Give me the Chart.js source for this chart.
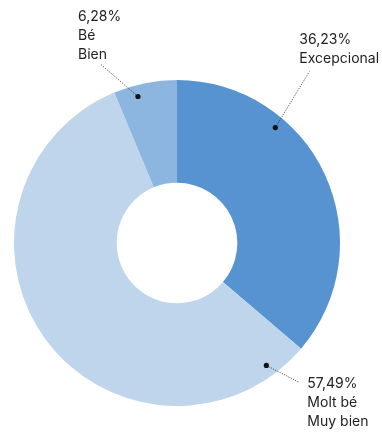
<!DOCTYPE html>
<html>
<head>
<meta charset="utf-8">
<script src="https://cdn.jsdelivr.net/npm/chart.js@4/dist/chart.umd.min.js"></script>
<style>
  html, body { margin: 0; padding: 0; background: #fff; }
  #wrap { width: 382px; height: 434px; }
</style>
</head>
<body>
<div id="wrap"><canvas id="myChart"></canvas></div>
<script>
// Data
var categories = ['Excepcional', 'Molt bé\nMuy bien', 'Bé\nBien'];
var values = [36.23, 57.49, 6.28];
var valueLabels = ['36,23%', '57,49%', '6,28%'];
var colors = ['#5693d0', '#bed5ec', '#8cb6e0'];

// Callout placement per slice: where on the arc the dot sits, and where the text goes
var callouts = [
    { frac: 0.31, r: 0.93, lineDx: 34, lineDy: -56, textDx: -10, textDy: -28 },
    { frac: 0.065, r: 0.93, lineDx: 33, lineDy: 17, textDx: 8, textDy: 6 },
    { frac: 0.34, r: 0.93, lineDx: -37, lineDy: -32, textDx: -23, textDy: -44 }
];

// Plugin drawing the dotted leader lines and labels
var calloutPlugin = {
    id: 'callouts',
    afterDatasetsDraw: function(chart) {
        var ctx = chart.ctx;
        var meta = chart.getDatasetMeta(0);
        meta.data.forEach(function(arc, i) {
            var c = callouts[i];
            var p = arc.getProps(['x', 'y', 'startAngle', 'endAngle', 'outerRadius'], true);
            var a = p.startAngle + c.frac * (p.endAngle - p.startAngle);
            var px = p.x + Math.cos(a) * p.outerRadius * c.r;
            var py = p.y + Math.sin(a) * p.outerRadius * c.r;
            var ex = px + c.lineDx;
            var ey = py + c.lineDy;

            ctx.save();
            ctx.strokeStyle = '#333';
            ctx.lineWidth = 1;
            ctx.setLineDash([1, 1.5]);
            ctx.beginPath();
            ctx.moveTo(px, py);
            ctx.lineTo(ex, ey);
            ctx.stroke();
            ctx.setLineDash([]);
            ctx.fillStyle = '#111';
            ctx.beginPath();
            ctx.arc(px, py, 2.6, 0, Math.PI * 2);
            ctx.fill();

            var lines = [valueLabels[i]].concat(categories[i].split('\n'));
            ctx.fillStyle = '#222';
            ctx.font = '14px Inter, "Noto Sans", sans-serif';
            ctx.textAlign = 'left';
            ctx.textBaseline = 'alphabetic';
            lines.forEach(function(t, k) {
                ctx.fillText(t, ex + c.textDx, ey + c.textDy + k * 19);
            });
            ctx.restore();
        });
    }
};

var ctx = document.getElementById('myChart').getContext('2d');
var myChart = new Chart(ctx, {
    type: 'doughnut',
    data: {
        labels: categories,
        datasets: [{
            data: values,
            backgroundColor: colors,
            borderWidth: 0
        }]
    },
    options: {
        responsive: true,
        maintainAspectRatio: false,
        animation: false,
        cutout: '37%',
        layout: {
            padding: { left: 14, right: 42, top: 80, bottom: 28 }
        },
        plugins: {
            legend: { display: false },
            tooltip: { enabled: false }
        }
    },
    plugins: [calloutPlugin]
});
</script>
</body>
</html>
